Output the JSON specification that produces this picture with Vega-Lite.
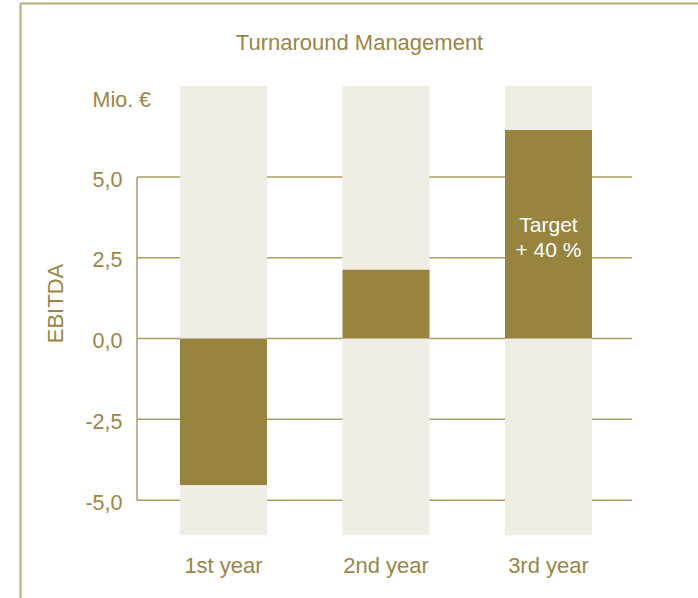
{
  "$schema": "https://vega.github.io/schema/vega-lite/v6.json",
  "width": 678,
  "height": 595,
  "autosize": "none",
  "padding": {"left": 20, "top": 3, "right": 0, "bottom": 0},
  "background": "white",
  "config": {
    "view": {"stroke": null},
    "font": "Liberation Sans",
    "axis": {
      "labelFont": "Liberation Sans",
      "titleFont": "Liberation Sans",
      "labelColor": "#998646",
      "titleColor": "#998646",
      "titleFontWeight": "normal",
      "labelFontSize": 22,
      "titleFontSize": 22,
      "grid": false,
      "ticks": false
    }
  },
  "data": {
    "values": [
      {"year": "1st year", "value": -4.53},
      {"year": "2nd year", "value": 2.13},
      {"year": "3rd year", "value": 6.46}
    ]
  },
  "resolve": {"axis": {"x": "independent", "y": "independent"}},
  "layer": [
    {
      "data": {"values": [{"v": -5}, {"v": -2.5}, {"v": 0}, {"v": 2.5}, {"v": 5}]},
      "mark": {"type": "rule", "color": "#ab9d60", "strokeWidth": 1.5, "xOffset": -86.5, "x2Offset": 83.5},
      "encoding": {
        "x": {"datum": "1st year", "type": "nominal", "axis": null},
        "x2": {"datum": "3rd year"},
        "y": {"field": "v", "type": "quantitative", "axis": null}
      }
    },
    {
      "data": {"values": [{"top": 5, "bottom": -5}]},
      "mark": {"type": "rule", "color": "#ab9d60", "strokeWidth": 1.5, "xOffset": -86.5},
      "encoding": {
        "x": {"datum": "1st year", "type": "nominal", "axis": null},
        "y": {"field": "top", "type": "quantitative", "axis": null},
        "y2": {"field": "bottom"}
      }
    },
    {
      "mark": {"type": "bar", "color": "#f0ede5"},
      "encoding": {
        "x": {
          "field": "year", "type": "nominal",
          "scale": {"paddingInner": 0.4646, "paddingOuter": 0.8185, "align": 0.6015, "round": false},
          "axis": {
            "orient": "top", "labels": false, "ticks": false, "domain": true,
            "domainColor": "#b8ab78", "domainWidth": 2,
            "title": "Turnaround Management", "titleFontSize": 22,
            "titleBaseline": "alphabetic", "titleY": 46
          }
        },
        "y": {
          "datum": 7.82, "type": "quantitative",
          "scale": {"domain": [-8.03, 10.39], "nice": false, "zero": false},
          "axis": {
            "orient": "left", "labels": false, "ticks": false, "domain": true,
            "domainColor": "#b8ab78", "domainWidth": 2, "title": null
          }
        },
        "y2": {"datum": -6.09}
      }
    },
    {
      "mark": {"type": "bar", "color": "#96843f"},
      "encoding": {
        "x": {
          "field": "year", "type": "nominal",
          "axis": {
            "orient": "bottom", "offset": -51, "domain": false, "ticks": false,
            "labelPadding": 8, "labelAngle": 0, "labelFontSize": 22, "title": null
          }
        },
        "y": {
          "field": "value", "type": "quantitative",
          "axis": {
            "orient": "left", "offset": -117, "domain": false, "ticks": false,
            "values": [-5, -2.5, 0, 2.5, 5, 7.45],
            "labelExpr": "datum.value > 6 ? 'Mio. €' : (datum.value < 0 ? '-' : '') + replace(format(abs(datum.value), '.1f'), '.', ',')",
            "labelAlign": {"condition": {"test": "datum.value > 6", "value": "left"}, "value": "right"},
            "labelPadding": {"condition": {"test": "datum.value > 6", "value": 45}, "value": 15},
            "labelOffset": 3,
            "labelFontSize": 21.5,
            "title": "EBITDA", "titleFontSize": 22,
            "titleAngle": -90, "titleAlign": "center", "titleBaseline": "middle",
            "titleX": -82, "titleY": 300
          }
        },
        "y2": {"datum": 0}
      }
    },
    {
      "data": {"values": [{"year": "3rd year", "note": ["Target", "+ 40 %"]}]},
      "mark": {"type": "text", "color": "white", "fontSize": 21, "font": "Liberation Sans", "lineHeight": 25, "baseline": "middle", "align": "center"},
      "encoding": {
        "x": {"field": "year", "type": "nominal", "axis": null},
        "y": {"datum": 3.5, "type": "quantitative", "axis": null},
        "text": {"field": "note"}
      }
    }
  ]
}
